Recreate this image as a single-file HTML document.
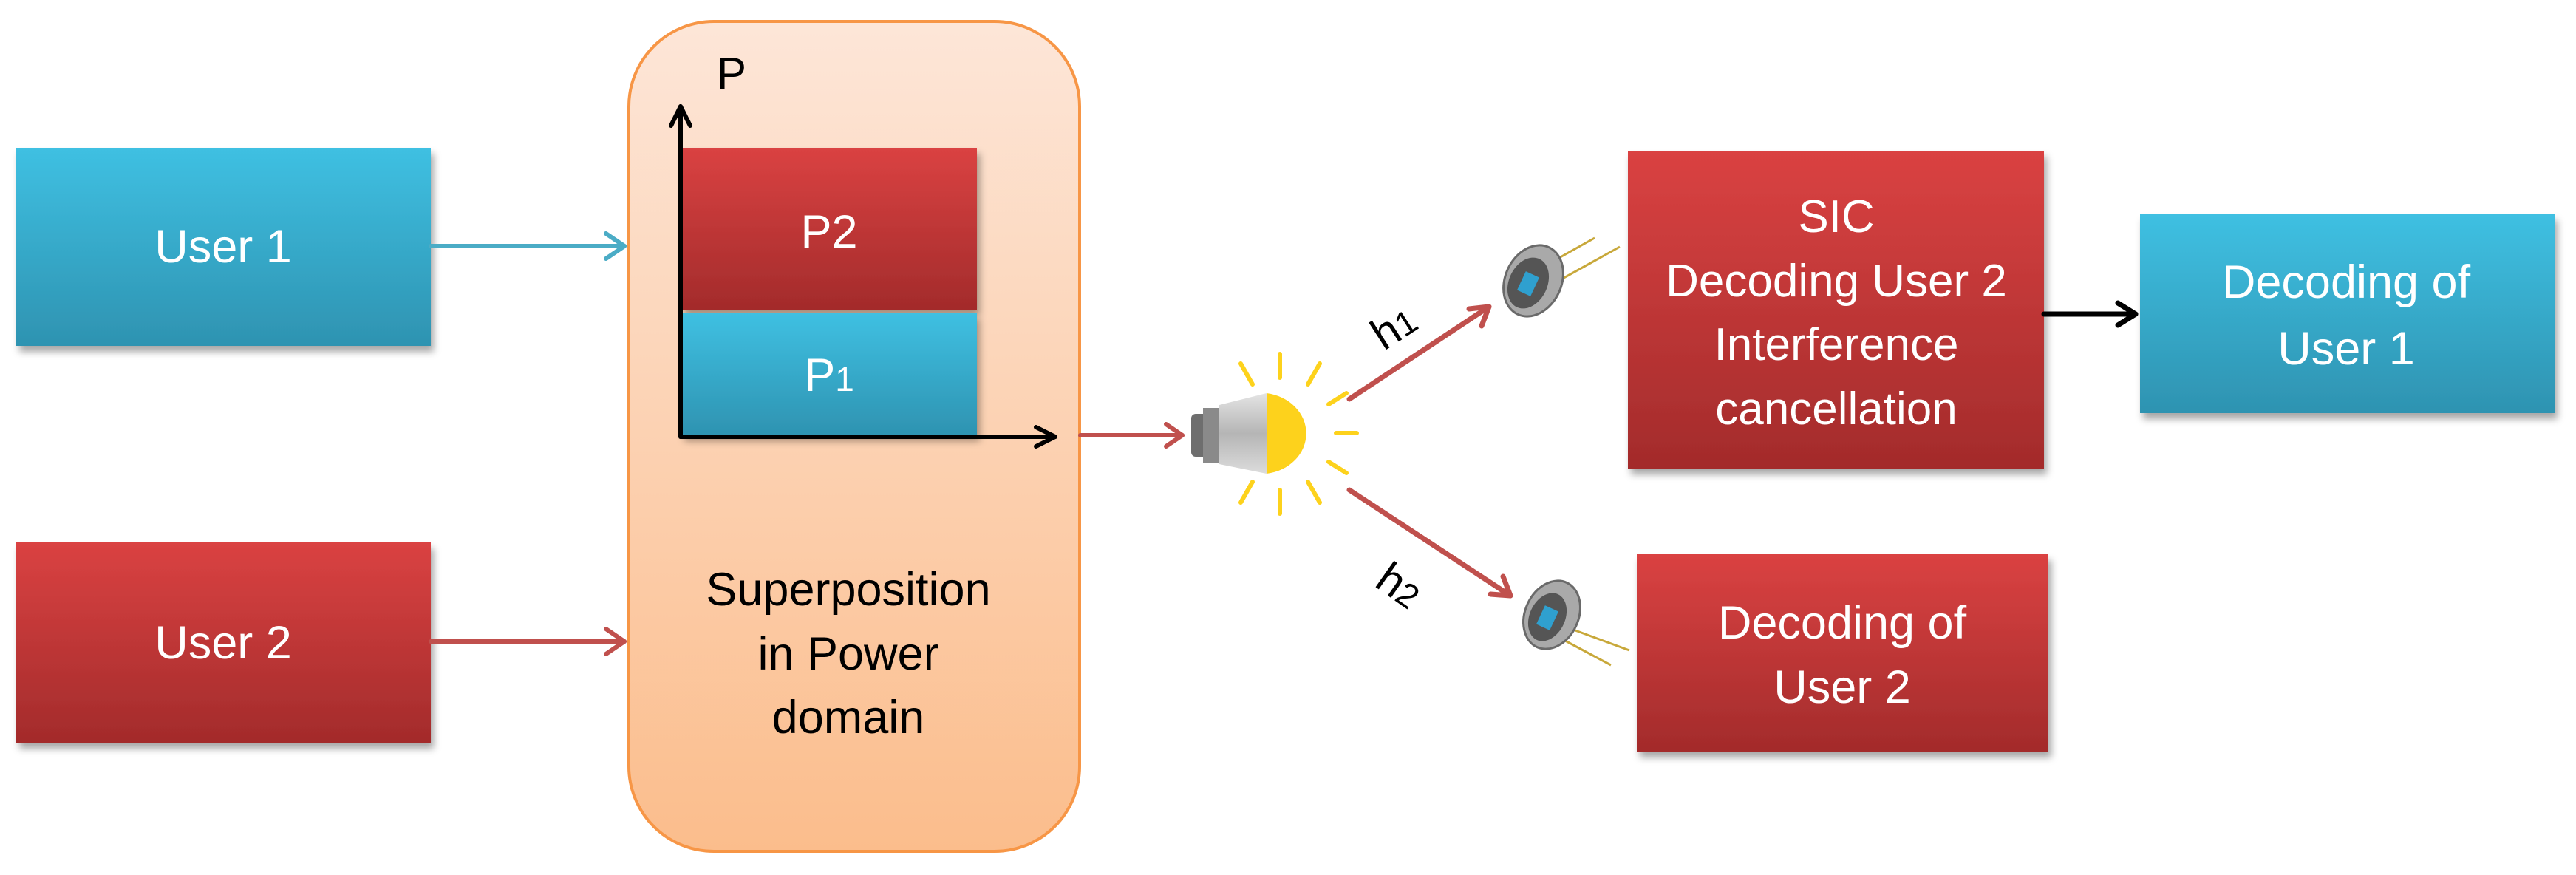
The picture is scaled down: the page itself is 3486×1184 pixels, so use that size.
<!DOCTYPE html>
<html><head><meta charset="utf-8"><style>
html,body{margin:0;padding:0;background:#fff;}
svg{display:block;}
text{font-family:"Liberation Sans",sans-serif;}
</style></head><body>
<svg width="3486" height="1184" viewBox="0 0 3486 1184" xmlns="http://www.w3.org/2000/svg">
<defs>
<linearGradient id="blue" x1="0" y1="0" x2="0" y2="1"><stop offset="0" stop-color="#3fc0e2"/><stop offset="1" stop-color="#2e93b1"/></linearGradient>
<linearGradient id="red" x1="0" y1="0" x2="0" y2="1"><stop offset="0" stop-color="#da4242"/><stop offset="1" stop-color="#a32b2b"/></linearGradient>
<linearGradient id="org" x1="0" y1="0" x2="0" y2="1"><stop offset="0" stop-color="#fde6d8"/><stop offset="1" stop-color="#fbbd8c"/></linearGradient>
<linearGradient id="silver" x1="0" y1="0" x2="0" y2="1"><stop offset="0" stop-color="#e4e4e4"/><stop offset="0.5" stop-color="#b5b5b5"/><stop offset="1" stop-color="#dcdcdc"/></linearGradient>
<filter id="sh" x="-5%" y="-5%" width="115%" height="120%"><feDropShadow dx="4" dy="8" stdDeviation="5" flood-color="#000" flood-opacity="0.35"/></filter>
</defs>

<rect x="851" y="29" width="610" height="1123" rx="115" fill="url(#org)" stroke="#f79646" stroke-width="4"/>

<rect x="22" y="200" width="561" height="268" fill="url(#blue)" filter="url(#sh)"/>
<text x="302" y="355" font-size="63" fill="#fff" text-anchor="middle">User 1</text>
<rect x="22" y="734" width="561" height="271" fill="url(#red)" filter="url(#sh)"/>
<text x="302" y="891" font-size="63" fill="#fff" text-anchor="middle">User 2</text>

<g fill="none" stroke-width="6" stroke-linecap="round" stroke-linejoin="round">
<line x1="583" y1="333" x2="845" y2="333" stroke="#4bacc6"/>
<polyline points="820,316 845,333 820,350" stroke="#4bacc6"/>
<line x1="583" y1="868" x2="845" y2="868" stroke="#c0504d"/>
<polyline points="820,851 845,868 820,885" stroke="#c0504d"/>
</g>

<rect x="922" y="200" width="400" height="219" fill="url(#red)" filter="url(#sh)"/>
<text x="1122" y="335" font-size="63" fill="#fff" text-anchor="middle">P2</text>
<rect x="922" y="423" width="400" height="166" fill="url(#blue)" filter="url(#sh)"/>
<text x="1122" y="529" font-size="63" fill="#fff" text-anchor="middle">P<tspan font-size="46">1</tspan></text>

<g fill="none" stroke="#000" stroke-width="6" stroke-linecap="round" stroke-linejoin="round">
<line x1="921" y1="591" x2="921" y2="144"/>
<polyline points="908,170 921,144 934,170"/>
<line x1="921" y1="591" x2="1428" y2="591"/>
<polyline points="1402,578 1428,591 1402,604"/>
</g>
<text x="990" y="120" font-size="60" fill="#000" text-anchor="middle">P</text>

<text x="1148" y="819" font-size="63" fill="#000" text-anchor="middle">Superposition</text>
<text x="1148" y="906" font-size="63" fill="#000" text-anchor="middle">in Power</text>
<text x="1148" y="992" font-size="63" fill="#000" text-anchor="middle">domain</text>

<g fill="none" stroke="#c0504d" stroke-width="6" stroke-linecap="round" stroke-linejoin="round">
<line x1="1462" y1="589" x2="1600" y2="589"/>
<polyline points="1578,574 1600,589 1578,604"/>
</g>

<g>
<rect x="1612" y="560" width="22" height="58" rx="6" fill="#6e6e6e"/>
<rect x="1628" y="552" width="22" height="74" fill="#8a8a8a"/>
<path d="M1650,548 L1714,532 L1714,641 L1650,628 Z" fill="url(#silver)"/>
<path d="M1714,532 A62,55 0 0 1 1714,641 Z" fill="#fdd21c"/>
<g stroke="#fdd21c" stroke-width="6" stroke-linecap="round">
<line x1="1732" y1="479" x2="1732" y2="511"/>
<line x1="1732" y1="663" x2="1732" y2="695"/>
<line x1="1808" y1="586" x2="1836" y2="586"/>
<line x1="1679" y1="492" x2="1695" y2="520"/>
<line x1="1786" y1="492" x2="1770" y2="520"/>
<line x1="1679" y1="680" x2="1695" y2="652"/>
<line x1="1786" y1="680" x2="1770" y2="652"/>
<line x1="1798" y1="547" x2="1822" y2="532"/>
<line x1="1798" y1="625" x2="1822" y2="640"/>
</g>
</g>

<g fill="none" stroke="#c0504d" stroke-width="7" stroke-linecap="round" stroke-linejoin="round">
<line x1="1826" y1="540" x2="2015" y2="415"/>
<polyline points="1988,418 2015,415 2005,441"/>
<line x1="1826" y1="663" x2="2044" y2="806"/>
<polyline points="2034,780 2044,806 2017,804"/>
</g>
<text x="1888" y="462" font-size="60" fill="#000" text-anchor="middle" transform="rotate(-33 1888 445)">h<tspan font-size="46">1</tspan></text>
<text x="1892" y="812" font-size="60" fill="#000" text-anchor="middle" transform="rotate(35 1892 795)">h<tspan font-size="46">2</tspan></text>

<g>
<line x1="2090" y1="360" x2="2158" y2="322" stroke="#c8a83a" stroke-width="3"/>
<line x1="2100" y1="385" x2="2192" y2="334" stroke="#c8a83a" stroke-width="3"/>
<ellipse cx="2075" cy="380" rx="38" ry="50" transform="rotate(25 2075 380)" fill="#a9a9a9" stroke="#6a6a6a" stroke-width="3"/>
<ellipse cx="2068" cy="383" rx="26" ry="36" transform="rotate(25 2068 383)" fill="#555"/>
<rect x="2058" y="370" width="20" height="28" transform="rotate(25 2068 384)" fill="#2fa0cf"/>
</g>
<g>
<line x1="2110" y1="845" x2="2205" y2="880" stroke="#c8a83a" stroke-width="3"/>
<line x1="2105" y1="860" x2="2180" y2="900" stroke="#c8a83a" stroke-width="3"/>
<ellipse cx="2100" cy="832" rx="36" ry="48" transform="rotate(25 2100 832)" fill="#a9a9a9" stroke="#6a6a6a" stroke-width="3"/>
<ellipse cx="2094" cy="835" rx="24" ry="34" transform="rotate(25 2094 835)" fill="#555"/>
<rect x="2084" y="822" width="20" height="28" transform="rotate(25 2094 836)" fill="#2fa0cf"/>
</g>

<rect x="2203" y="204" width="563" height="430" fill="url(#red)" filter="url(#sh)"/>
<g font-size="62" fill="#fff" text-anchor="middle">
<text x="2485" y="314">SIC</text>
<text x="2485" y="401">Decoding User 2</text>
<text x="2485" y="487">Interference</text>
<text x="2485" y="574">cancellation</text>
</g>

<g fill="none" stroke="#000" stroke-width="7" stroke-linecap="round" stroke-linejoin="round">
<line x1="2766" y1="425" x2="2890" y2="425"/>
<polyline points="2866,410 2890,425 2866,440"/>
</g>

<rect x="2896" y="290" width="561" height="269" fill="url(#blue)" filter="url(#sh)"/>
<g font-size="63" fill="#fff" text-anchor="middle">
<text x="3175" y="403">Decoding of</text>
<text x="3175" y="493">User 1</text>
</g>

<rect x="2215" y="750" width="557" height="267" fill="url(#red)" filter="url(#sh)"/>
<g font-size="63" fill="#fff" text-anchor="middle">
<text x="2493" y="864">Decoding of</text>
<text x="2493" y="951">User 2</text>
</g>
</svg>
</body></html>
